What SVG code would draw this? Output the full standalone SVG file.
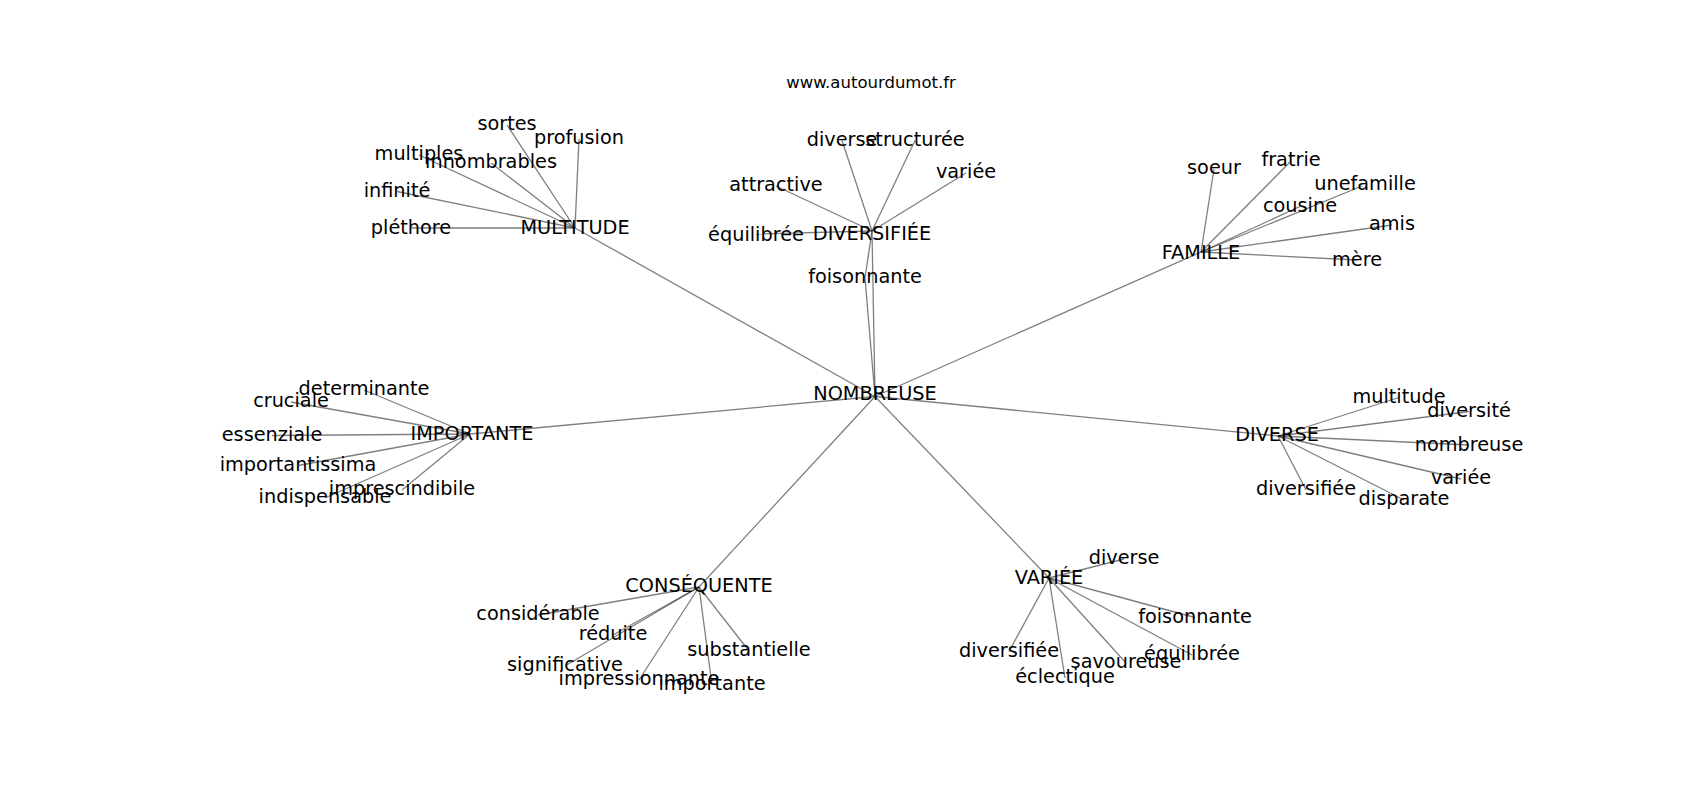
<svg xmlns="http://www.w3.org/2000/svg" width="1700" height="800" viewBox="0 0 1700 800">
<style>
.e{stroke:#000;stroke-opacity:0.5;stroke-width:1.3;fill:none}
text{font-family:"DejaVu Sans","Liberation Sans",sans-serif;fill:#000;text-anchor:middle}
.n text{font-size:19.3px}
.t{font-size:16.5px}
</style>
<rect width="1700" height="800" fill="#fff"/>
<text class="t" x="871" y="87.5">www.autourdumot.fr</text>
<g id="connectors">
<!-- hubs to NOMBREUSE -->
<line class="e" x1="875" y1="396.5" x2="575" y2="228"/>
<line class="e" x1="875" y1="396.5" x2="872" y2="231"/>
<line class="e" x1="875" y1="396.5" x2="865" y2="278"/>
<line class="e" x1="875" y1="396.5" x2="1201" y2="252"/>
<line class="e" x1="875" y1="396.5" x2="470" y2="434"/>
<line class="e" x1="875" y1="396.5" x2="1278" y2="436"/>
<line class="e" x1="875" y1="396.5" x2="699" y2="587"/>
<line class="e" x1="875" y1="396.5" x2="1049" y2="578"/>
<!-- MULTITUDE -->
<line class="e" x1="575" y1="228" x2="507" y2="125"/>
<line class="e" x1="575" y1="228" x2="579" y2="139"/>
<line class="e" x1="575" y1="228" x2="419" y2="155"/>
<line class="e" x1="575" y1="228" x2="491" y2="163"/>
<line class="e" x1="575" y1="228" x2="397" y2="191.5"/>
<line class="e" x1="575" y1="228" x2="411" y2="228"/>
<!-- DIVERSIFIÉE -->
<line class="e" x1="872" y1="231" x2="842" y2="140.5"/>
<line class="e" x1="872" y1="231" x2="915" y2="140.5"/>
<line class="e" x1="872" y1="231" x2="966" y2="173"/>
<line class="e" x1="872" y1="231" x2="776" y2="186"/>
<line class="e" x1="872" y1="231" x2="756" y2="234"/>
<line class="e" x1="872" y1="231" x2="865" y2="278"/>
<!-- FAMILLE -->
<line class="e" x1="1201" y1="252" x2="1214" y2="169"/>
<line class="e" x1="1201" y1="252" x2="1291" y2="161"/>
<line class="e" x1="1201" y1="252" x2="1362" y2="186"/>
<line class="e" x1="1201" y1="252" x2="1300" y2="206.5"/>
<line class="e" x1="1201" y1="252" x2="1392" y2="225"/>
<line class="e" x1="1201" y1="252" x2="1357" y2="260"/>
<!-- IMPORTANTE -->
<line class="e" x1="470" y1="434" x2="364" y2="390"/>
<line class="e" x1="470" y1="434" x2="291" y2="402"/>
<line class="e" x1="470" y1="434" x2="272" y2="435.5"/>
<line class="e" x1="470" y1="434" x2="298" y2="465.5"/>
<line class="e" x1="470" y1="434" x2="402" y2="490"/>
<line class="e" x1="470" y1="434" x2="325" y2="498"/>
<!-- DIVERSE -->
<line class="e" x1="1278" y1="436" x2="1399" y2="397.5"/>
<line class="e" x1="1278" y1="436" x2="1469" y2="411.5"/>
<line class="e" x1="1278" y1="436" x2="1469" y2="445"/>
<line class="e" x1="1278" y1="436" x2="1461" y2="479"/>
<line class="e" x1="1278" y1="436" x2="1306" y2="490"/>
<line class="e" x1="1278" y1="436" x2="1404" y2="500"/>
<!-- CONSÉQUENTE -->
<line class="e" x1="699" y1="587" x2="538" y2="615"/>
<line class="e" x1="699" y1="587" x2="613" y2="635"/>
<line class="e" x1="699" y1="587" x2="565" y2="666"/>
<line class="e" x1="699" y1="587" x2="639" y2="680"/>
<line class="e" x1="699" y1="587" x2="712" y2="685"/>
<line class="e" x1="699" y1="587" x2="749" y2="651"/>
<!-- VARIÉE -->
<line class="e" x1="1049" y1="578" x2="1124" y2="559"/>
<line class="e" x1="1049" y1="578" x2="1195" y2="617.5"/>
<line class="e" x1="1049" y1="578" x2="1192" y2="655"/>
<line class="e" x1="1049" y1="578" x2="1126" y2="663"/>
<line class="e" x1="1049" y1="578" x2="1009" y2="651.5"/>
<line class="e" x1="1049" y1="578" x2="1065" y2="678"/>
</g>
<g class="n">
<g id="n-nombreuse"><text x="875" y="399.6">NOMBREUSE</text></g>
<g id="n-multitude"><text x="575" y="233.6">MULTITUDE</text></g>
<g id="n-sortes"><text x="507" y="130">sortes</text></g>
<g id="n-profusion"><text x="579" y="144">profusion</text></g>
<g id="n-multiples"><text x="419" y="160">multiples</text></g>
<g id="n-innombrables"><text x="491" y="168">innombrables</text></g>
<g id="n-infinite"><text x="397" y="196.5">infinité</text></g>
<g id="n-plethore"><text x="411" y="234">pléthore</text></g>
<g id="n-diversifiee-hub"><text x="872" y="240">DIVERSIFIÉE</text></g>
<g id="n-diverse1"><text x="842" y="145.5">diverse</text></g>
<g id="n-structuree"><text x="915" y="145.5">structurée</text></g>
<g id="n-variee1"><text x="966" y="178">variée</text></g>
<g id="n-attractive"><text x="776" y="191">attractive</text></g>
<g id="n-equilibree1"><text x="756" y="240.5">équilibrée</text></g>
<g id="n-foisonnante1"><text x="865" y="283">foisonnante</text></g>
<g id="n-famille"><text x="1201" y="259.2">FAMILLE</text></g>
<g id="n-soeur"><text x="1214" y="174">soeur</text></g>
<g id="n-fratrie"><text x="1291" y="166">fratrie</text></g>
<g id="n-unefamille"><text x="1365" y="190">unefamille</text></g>
<g id="n-cousine"><text x="1300" y="211.5">cousine</text></g>
<g id="n-amis"><text x="1392" y="230">amis</text></g>
<g id="n-mere"><text x="1357" y="266">mère</text></g>
<g id="n-importante-hub"><text x="472" y="439.6">IMPORTANTE</text></g>
<g id="n-determinante"><text x="364" y="395">determinante</text></g>
<g id="n-cruciale"><text x="291" y="407">cruciale</text></g>
<g id="n-essenziale"><text x="272" y="440.5">essenziale</text></g>
<g id="n-importantissima"><text x="298" y="470.5">importantissima</text></g>
<g id="n-imprescindibile"><text x="402" y="495">imprescindibile</text></g>
<g id="n-indispensable"><text x="325" y="503">indispensable</text></g>
<g id="n-diverse-hub"><text x="1277" y="441">DIVERSE</text></g>
<g id="n-multitude2"><text x="1399" y="402.5">multitude</text></g>
<g id="n-diversite"><text x="1469" y="416.5">diversité</text></g>
<g id="n-nombreuse2"><text x="1469" y="451">nombreuse</text></g>
<g id="n-variee2"><text x="1461" y="484">variée</text></g>
<g id="n-diversifiee2"><text x="1306" y="495">diversifiée</text></g>
<g id="n-disparate"><text x="1404" y="505">disparate</text></g>
<g id="n-consequente"><text x="699" y="592">CONSÉQUENTE</text></g>
<g id="n-considerable"><text x="538" y="620">considérable</text></g>
<g id="n-reduite"><text x="613" y="640">réduite</text></g>
<g id="n-significative"><text x="565" y="671">significative</text></g>
<g id="n-impressionnante"><text x="639" y="685">impressionnante</text></g>
<g id="n-importante"><text x="712" y="690">importante</text></g>
<g id="n-substantielle"><text x="749" y="656">substantielle</text></g>
<g id="n-variee-hub"><text x="1049" y="583.6">VARIÉE</text></g>
<g id="n-diverse3"><text x="1124" y="564">diverse</text></g>
<g id="n-foisonnante3"><text x="1195" y="622.5">foisonnante</text></g>
<g id="n-equilibree3"><text x="1192" y="660">équilibrée</text></g>
<g id="n-savoureuse"><text x="1126" y="668">savoureuse</text></g>
<g id="n-diversifiee3"><text x="1009" y="656.5">diversifiée</text></g>
<g id="n-eclectique"><text x="1065" y="683">éclectique</text></g>
</g>
</svg>
